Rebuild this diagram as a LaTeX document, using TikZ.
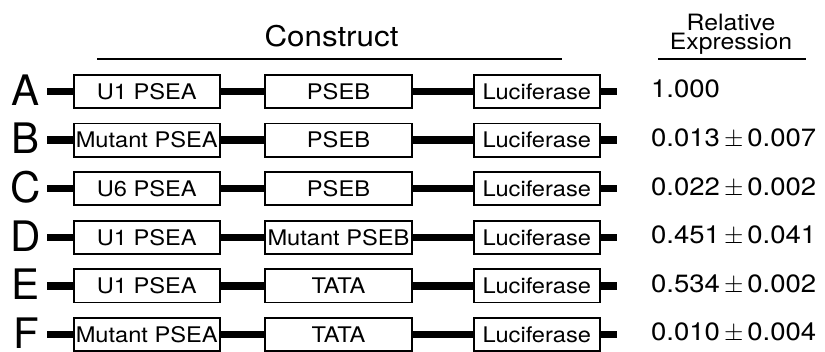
\documentclass[tikz,border=0pt]{standalone}
\usepackage{fontspec}
\setmainfont{TeX Gyre Heros}[FakeStretch=1.1]
\newfontfamily\tagfont{TeX Gyre Heros}

\newcommand{\pmgap}{\hspace{4pt}$\pm$\hspace{4pt}}

\tikzset{
  elem/.style={draw, line width=1.8pt, minimum width=#1, minimum height=33.2pt,
    inner sep=0pt, font=\fontsize{21.5}{21.5}\selectfont},
  link/.style={line width=7.5pt},
  rowtag/.style={inner sep=0pt, font=\tagfont\fontsize{42}{42}\selectfont},
  value/.style={inner sep=0pt, anchor=base west, font=\fontsize{25}{25}\selectfont},
  rule/.style={line width=2pt}
}

\begin{document}
\begin{tikzpicture}[x=1pt, y=-1pt]
\useasboundingbox (0,0) rectangle (825,352);

% column headings
\node[inner sep=0pt, anchor=base, font=\fontsize{28.5}{28.5}\selectfont] (hcon) at (331.5,47) {Construct};
\draw[rule] (97,59) -- (562,59);
\node[inner sep=0pt, anchor=north, align=center, font=\fontsize{22.5}{18.5}\selectfont]
  (hrel) at (731,14) {Relative\\Expression};
\draw[rule] (658,59.5) -- (806,59.5);

% one construct per row: tag, promoter elements, reporter, measured value
\foreach \i/\first/\second/\val [count=\r from 0] in {
  A/U1 PSEA/PSEB/1.000,
  B/Mutant PSEA/PSEB/0.013\pmgap 0.007,
  C/U6 PSEA/PSEB/0.022\pmgap 0.002,
  D/U1 PSEA/Mutant PSEB/0.451\pmgap 0.041,
  E/U1 PSEA/TATA/0.534\pmgap 0.002,
  F/Mutant PSEA/TATA/0.010\pmgap 0.004} {
  \pgfmathsetmacro{\yy}{91.5+48.6*\r}
  \node[rowtag] (tag\i) at (26,\yy-1.5) {\i};
  \coordinate (start\i) at (47,\yy);
  \node[elem=145.7pt] (pa\i) at (146.75,\yy) {\first};
  \node[elem=147.2pt] (pb\i) at (338.5,\yy) {\second};
  \node[elem=125.7pt] (luc\i) at (536.75,\yy) {Luciferase};
  \coordinate (stop\i) at (617,\yy);
  \draw[link] (start\i) -- (pa\i.west);
  \draw[link] (pa\i.east) -- (pb\i.west);
  \draw[link] (pb\i.east) -- (luc\i.west);
  \draw[link] (luc\i.east) -- (stop\i);
  \node[value] (val\i) at (651,\yy+6.5) {\val};
}
\end{tikzpicture}
\end{document}
